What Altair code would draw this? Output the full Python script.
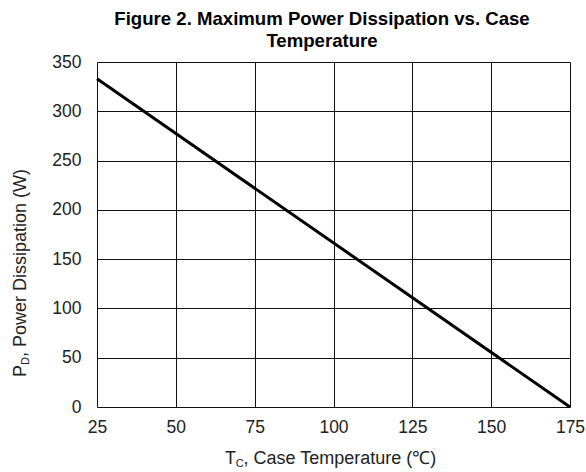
import altair as alt
import pandas as pd

# Derating curve: maximum power dissipation vs. case temperature
case_temp_c = [25, 175]
power_w = [333, 0]

x_ticks = [25, 50, 75, 100, 125, 150, 175]
y_ticks = [0, 50, 100, 150, 200, 250, 300, 350]

W, H = 473, 345
FONT = "Liberation Sans"
TXT = "#222222"

df = pd.DataFrame({"tc": case_temp_c, "pd": power_w})

x_scale = alt.Scale(domain=[25, 175], nice=False, zero=False)
y_scale = alt.Scale(domain=[0, 350], nice=False)

curve = alt.Chart(df).mark_line(color="black", strokeWidth=3).encode(
    x=alt.X("tc:Q", scale=x_scale,
            axis=alt.Axis(values=x_ticks, title=None, grid=True, gridColor="#111",
                          gridWidth=1, gridOpacity=1, ticks=False, domain=False,
                          labelFont=FONT, labelFontSize=17.5, labelColor=TXT,
                          labelPadding=11, labelFlush=False)),
    y=alt.Y("pd:Q", scale=y_scale,
            axis=alt.Axis(values=y_ticks, title=None, grid=True, gridColor="#111",
                          gridWidth=1, gridOpacity=1, ticks=False, domain=False,
                          labelFont=FONT, labelFontSize=17.5, labelColor=TXT,
                          labelPadding=16)),
)

def label(text, x, y, size=18, bold=False, angle=0, align="center", baseline="alphabetic", color=TXT):
    return alt.Chart(pd.DataFrame({"t": [text]})).mark_text(
        font=FONT, fontSize=size, fontWeight="bold" if bold else "normal",
        angle=angle, align=align, baseline=baseline, color=color,
    ).encode(text="t:N", x=alt.value(x), y=alt.value(y))

title = [
    label("Figure 2. Maximum Power Dissipation vs. Case", 225, -37, size=18.6, bold=True, color="black"),
    label("Temperature", 225, -15, size=18.6, bold=True, color="black"),
]

# x-axis title with subscript
xt_y = H + 57
xt_x0 = 128
x_title = [
    label("T", xt_x0, xt_y, align="left"),
    label("C", xt_x0 + 10.8, xt_y + 3, size=11, align="left"),
    label(", Case Temperature (\u2103)", xt_x0 + 18.5, xt_y, align="left"),
]

# y-axis title with subscript (rotated)
yt_x = -71
yt_y0 = 315
y_title = [
    label("P", yt_x, yt_y0, angle=270, align="left"),
    label("D", yt_x + 3, yt_y0 - 12, size=11, angle=270, align="left"),
    label(", Power Dissipation (W)", yt_x, yt_y0 - 20, angle=270, align="left"),
]

chart = alt.layer(curve, *title, *x_title, *y_title).properties(
    width=W, height=H,
    autosize=alt.AutoSizeParams(type="none"),
    padding={"left": 97, "top": 62, "right": 16, "bottom": 65},
).configure_view(stroke="black", strokeWidth=1.5).configure(background="white")

chart.save("out.html", embed_options={"renderer": "svg", "actions": False})
